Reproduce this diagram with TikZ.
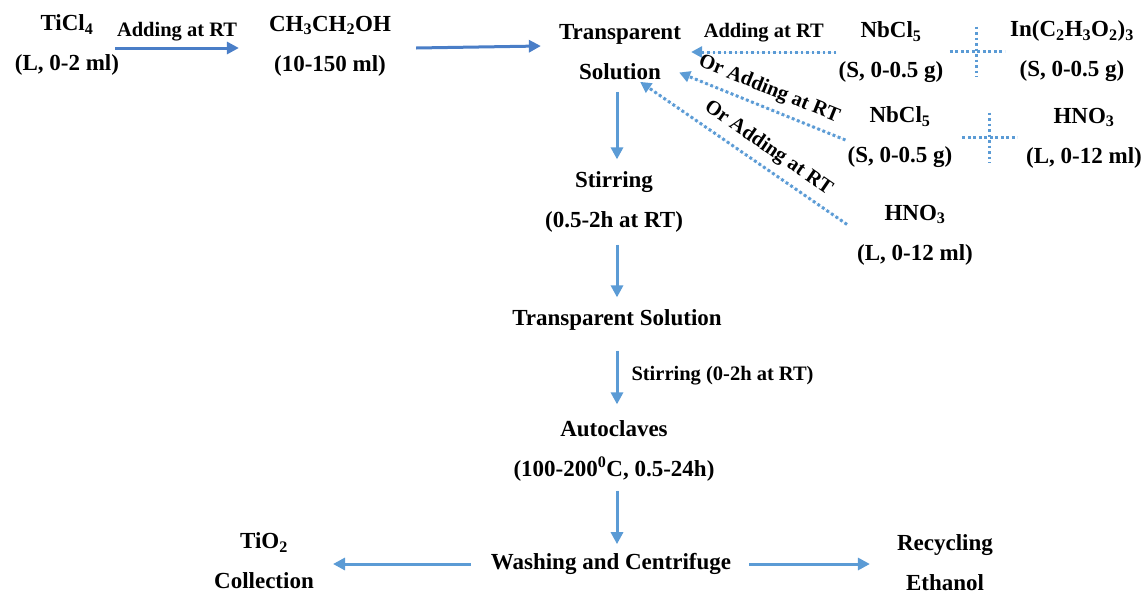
\documentclass[tikz,border=0pt]{standalone}
\usepackage{fontspec}
\setmainfont{Liberation Serif}
\usetikzlibrary{arrows.meta,calc}

\definecolor{flowblue}{HTML}{5B9BD5}
\definecolor{topblue}{HTML}{4A7EC7}

\tikzset{
  txt/.style={font=\fontsize{23}{40}\selectfont\bfseries, align=center, inner sep=2pt},
  lbl/.style={font=\fontsize{20.5}{24}\selectfont\bfseries, inner sep=2pt},
  flow/.style={draw=flowblue, fill=flowblue, line width=3pt,
    -{Triangle[length=12pt,width=12pt]}, shorten >=10pt, shorten <=10pt},
  addflow/.style={draw=flowblue, fill=flowblue, line width=3pt,
    dash pattern=on 2.8pt off 2.7pt, -{Triangle[length=11pt,width=11pt]}},
  plus/.style={draw=flowblue, line width=3pt, dash pattern=on 2.8pt off 2.7pt}
}

\begin{document}
\begin{tikzpicture}[x=1pt,y=-1pt]
\useasboundingbox (0,0) rectangle (1142,595);

% starting materials
\node[txt] (ti) at (67,45) {TiCl\textsubscript{4}\\(L, 0-2 ml)};
\node[txt] (ch) at (330,46) {CH\textsubscript{3}CH\textsubscript{2}OH\\(10-150 ml)};
\node[txt] (ts1) at (620,52) {Transparent\\Solution};

% dopants
\node[txt] (nbA) at (891,52) {NbCl\textsubscript{5}\\(S, 0-0.5 g)};
\node[txt] (inA) at (1072,51) {In(C\textsubscript{2}H\textsubscript{3}O\textsubscript{2})\textsubscript{3}\\(S, 0-0.5 g)};
\node[txt] (nbB) at (900,137) {NbCl\textsubscript{5}\\(S, 0-0.5 g)};
\node[txt] (hnA) at (1084,138) {HNO\textsubscript{3}\\(L, 0-12 ml)};
\node[txt] (hnB) at (915,235) {HNO\textsubscript{3}\\(L, 0-12 ml)};

% main sequence
\node[txt] (stir) at (614,202) {Stirring\\(0.5-2h at RT)};
\node[txt] (ts2) at (617,320) {Transparent Solution};
\node[txt] (auto) at (614,451) {Autoclaves\\(100-200\textsuperscript{0}C, 0.5-24h)};
\node[txt] (wash) at (611,564) {Washing and Centrifuge};
\node[txt] (tio) at (264,561) {TiO\textsubscript{2}\\Collection};
\node[txt] (rec) at (945,563) {Recycling\\Ethanol};

% top row arrows
\draw[flow,draw=topblue,fill=topblue,shorten <=0pt,shorten >=0pt]
  ([xshift=-6pt,yshift=-3pt]ti.east) -- ([xshift=-28pt,yshift=-2pt]ch.west)
  node[midway,above=3pt,lbl,text=black] {Adding at RT};
\draw[flow,draw=topblue,fill=topblue,shorten <=0pt,shorten >=0pt]
  ([xshift=23pt,yshift=-2pt]ch.east) -- ([xshift=-16pt]ch.east -| ts1.west);

% dotted additions
\draw[addflow] (nbA.west) -- ([xshift=8pt]ts1.east)
  node[midway,above=6pt,lbl] {Adding at RT};
\draw[addflow] ([yshift=-3pt]nbB.west) -- ([xshift=-4pt]ts1.-18)
  node[midway,above=5pt,sloped,lbl] {Or Adding at RT};
\draw[addflow] ([xshift=-8pt]hnB.170) -- (ts1.-56)
  node[pos=0.43,above=5pt,sloped,lbl] {Or Adding at RT};

% plus signs
\coordinate (pA) at ($(nbA.east)!0.5!(inA.west)$);
\coordinate (pB) at ($(nbB.east)!0.5!(hnA.west)$);
\draw[plus] ($(pA)+(-27,0)$) -- ++(55,0);
\draw[plus] ($(pA)+(0,-25)$) -- ++(0,50);
\draw[plus] ($(pB)+(-27,0)$) -- ++(55,0);
\draw[plus] ($(pB)+(0,-25)$) -- ++(0,50);

% vertical chain
\draw[flow] (ts1.south -| ts2) -- (stir.north -| ts2);
\draw[flow] (stir.south -| ts2) -- (ts2.north);
\draw[flow,shorten <=18pt,shorten >=14pt] (ts2.south) -- (auto.north -| ts2)
  node[midway,right=11pt,lbl] {Stirring (0-2h at RT)};
\draw[flow,shorten <=7pt,shorten >=7pt] (auto.south -| ts2) -- (wash.north -| ts2);

% products
\draw[flow,shorten <=0pt,shorten >=0pt] ([xshift=-18pt]wash.west) -- ([xshift=17pt]wash.west -| tio.east);
\draw[flow,shorten <=0pt,shorten >=0pt] ([xshift=16pt]wash.east) -- ([xshift=-25pt]wash.east -| rec.west);
\end{tikzpicture}
\end{document}
